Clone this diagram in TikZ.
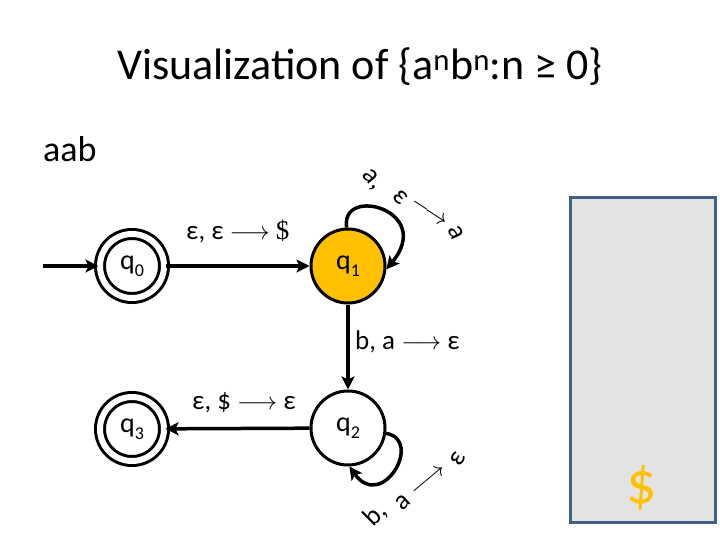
\documentclass[tikz,border=0pt]{standalone}
\usepackage{fontspec}
\setmainfont{Carlito}
\newfontfamily\serifdollar{Liberation Serif}
\usetikzlibrary{arrows.meta}
\definecolor{gold}{HTML}{FFC000}
\definecolor{stackfill}{HTML}{E3E3E3}
\definecolor{stackline}{HTML}{41618A}
\tikzset{
  state/.style={circle, draw=black, line width=3pt, minimum size=74pt, inner sep=0pt, font=\fontsize{28}{32}\selectfont},
  accept/.style={state, double=white, double distance=6pt, minimum size=64pt},
  tr/.style={line width=3.5pt, -{Stealth[length=13pt,width=13pt,inset=3pt]}},
  lbl/.style={font=\fontsize{27}{30}\selectfont, inner sep=0pt, anchor=base west},
  rl/.style={font=\fontsize{27}{30}\selectfont, inner sep=0pt},
}
\newcommand{\sub}[1]{\raisebox{-0.25em}{\fontsize{18}{20}\selectfont #1}}
\newcommand{\lra}{\ensuremath{\longrightarrow}}
\begin{document}
\begin{tikzpicture}[x=1pt,y=-1pt]
\useasboundingbox (0,0) rectangle (720,540);
% title
\node[font=\fontsize{44}{50}\selectfont, anchor=base, inner sep=0pt] (title) at (360,80)
  {Visualization of \{a\textsuperscript{n}b\textsuperscript{n}:n ≥ 0\}};
\node[font=\fontsize{36}{40}\selectfont, anchor=base west, inner sep=0pt] (input) at (43,162) {aab};
% stack
\node[draw=stackline, fill=stackfill, line width=3pt, minimum width=145pt, minimum height=324pt, inner sep=0pt] (stack) at (642.5,360) {};
\node[font=\fontsize{60}{64}\selectfont, text=gold, anchor=base, inner sep=0pt] (bottom) at (642,503) {\$};
% states
\node[accept] (q0) at (132,266) {q\sub{0}};
\node[state, fill=gold] (q1) at (348,266) {q\sub{1}};
\node[state] (q2) at (348,428) {q\sub{2}};
\node[accept] (q3) at (132,429) {q\sub{3}};
% transitions
\coordinate (init) at (43,266);
\draw[tr] (init) -- (q0);
\draw[tr] (q0) -- (q1);
\draw[tr] (q1) -- (q2);
\draw[tr] (q2) -- (q3);
\draw[tr] (q1.92) .. controls (340,185) and (435,210) .. (q1.-5);
\draw[tr] (q2.-8) .. controls (424,440) and (382,512) .. (q2.-88);
% labels
\node[lbl] (l01) at (186,240) {ε, ε \lra\ {\serifdollar\$}};
\node[lbl] (l12) at (355,349) {b, a \lra\ ε};
\node[lbl] (l23) at (192,409) {ε, \$ \lra\ ε};
% rotated loop label q1
\node[rl, rotate=-50] (a1) at (372,180) {a,};
\node[rl, rotate=-45] (a2) at (400,197) {ε};
\node[rl, rotate=-33] (a3) at (429,213) {\lra};
\node[rl, rotate=-65] (a4) at (456,233) {a};
% rotated loop label q2
\node[rl, rotate=45] (b1) at (375,515) {b,};
\node[rl, rotate=42] (b2) at (403,502) {a};
\node[rl, rotate=40] (b3) at (429,481) {\lra};
\node[rl, rotate=60] (b4) at (458,459) {ε};
\end{tikzpicture}
\end{document}
